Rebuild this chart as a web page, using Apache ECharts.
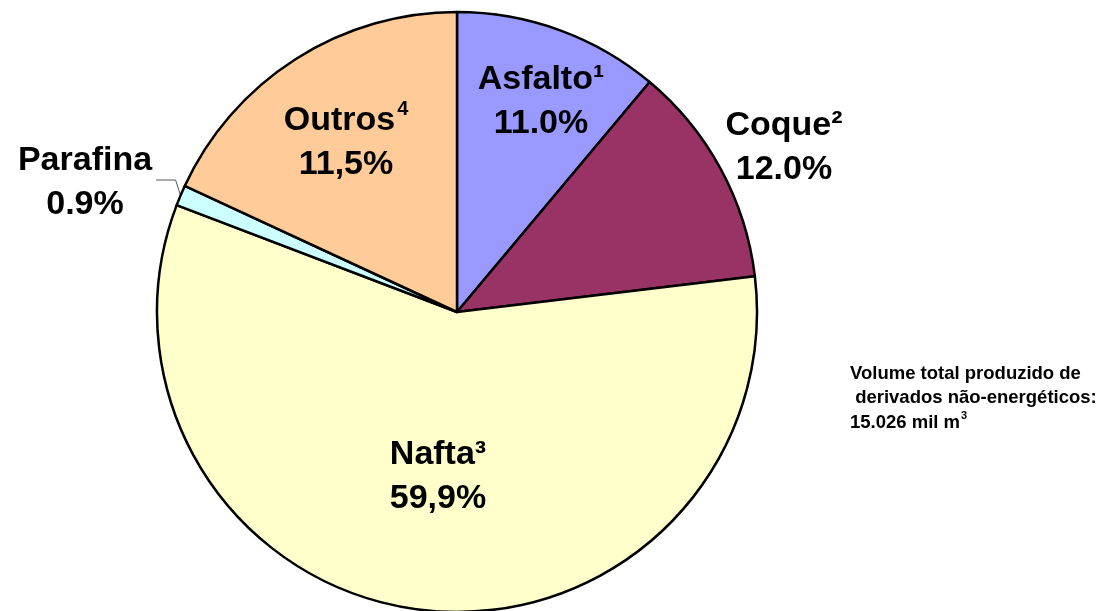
<!DOCTYPE html>
<html>
<head>
<meta charset="utf-8">
<script src="https://cdn.jsdelivr.net/npm/echarts@6/dist/echarts.min.js"></script>
<style>
html,body{margin:0;padding:0;background:#fff;}
#chart{width:1104px;height:611px;}
</style>
</head>
<body>
<div id="chart"></div>
<script>
const categories = ['Asfalto', 'Coque', 'Nafta', 'Parafina', 'Outros'];
const superscripts = ['¹', '²', '³', '', '4'];
const sliceValues = [11.1, 12.0, 57.7, 1.1, 18.1];
const printedLabels = ['11.0%', '12.0%', '59,9%', '0.9%', '11,5%'];
const colors = ['#9999FF', '#993366', '#FFFFCC', '#CCFFFF', '#FFCC99'];
const noteLines = ['Volume total produzido de', ' derivados não-energéticos:', '15.026 mil m'];

const chart = echarts.init(document.getElementById('chart'), null, {renderer: 'canvas'});
const CX = 457, CY = 312, R = 300;
// label block centres (pixels) per slice
const labelPos = [[541, 102], [784, 148], [438, 477], [85, 183], [346, 143]];

const data = categories.map((c, i) => ({
  name: c,
  value: sliceValues[i],
  itemStyle: {color: colors[i]},
  labelLine: {show: i === 3, lineStyle: {color: '#555', width: 1}}
}));

const font = 'Liberation Sans, Arial, sans-serif';
chart.setOption({
  animation: false,
  backgroundColor: '#fff',
  series: [{
    type: 'pie',
    center: [CX, CY],
    radius: [0, R],
    startAngle: 90,
    clockwise: true,
    avoidLabelOverlap: false,
    data: data,
    itemStyle: {borderColor: '#000', borderWidth: 2.5},
    label: {
      show: true,
      position: 'outside',
      formatter: p => {
        const i = p.dataIndex;
        if (i === 4) return '{a|' + categories[i] + '}{s|' + superscripts[i] + '}\n{a|' + printedLabels[i] + '}';
        return '{a|' + categories[i] + superscripts[i] + '}\n{a|' + printedLabels[i] + '}';
      },
      rich: {
        a: {fontFamily: font, fontWeight: 'bold', fontSize: 34, color: '#000', lineHeight: 44},
        s: {fontFamily: font, fontWeight: 'bold', fontSize: 20, color: '#000', lineHeight: 44, verticalAlign: 'top', padding: [0, 0, 14, 2]}
      },
      align: 'center'
    },
    labelLine: {length: 10, length2: 10},
    labelLayout: function (params) {
      const i = params.dataIndex;
      const res = {x: labelPos[i][0], y: labelPos[i][1], align: 'center', verticalAlign: 'middle'};
      if (i === 3 && params.labelLinePoints) {
        const a = params.labelLinePoints[0];
        const right = labelPos[i][0] + params.labelRect.width / 2 + 4;
        res.labelLinePoints = [[a[0], a[1]], [a[0] - 5, labelPos[i][1] - 3], [right, labelPos[i][1] - 3]];
      }
      return res;
    }
  }],
  graphic: [{
    type: 'text',
    left: 850,
    top: 364,
    style: {
      text: '{t|' + noteLines[0] + '}\n{t|' + noteLines[1] + '}\n{t|' + noteLines[2] + '}{u|3}',
      rich: {
        t: {fontFamily: font, fontWeight: 'bold', fontSize: 18.5, lineHeight: 24.5, fill: '#000'},
        u: {fontFamily: font, fontWeight: 'bold', fontSize: 11, lineHeight: 24.5, fill: '#000', verticalAlign: 'top', padding: [0, 0, 9, 1]}
      }
    }
  }]
});
</script>
</body>
</html>
